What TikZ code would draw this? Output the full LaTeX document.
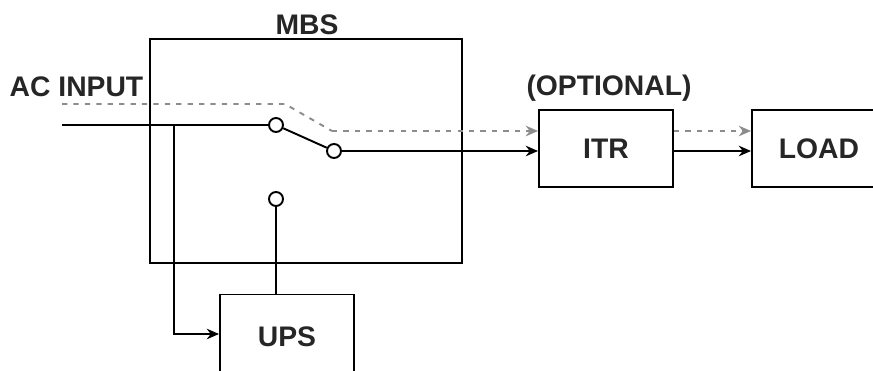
\documentclass[tikz,border=0pt]{standalone}
\usepackage{fontspec}
\usetikzlibrary{arrows.meta}
\setmainfont{Liberation Sans}
\tikzset{
    blockbox/.style={draw, line width=1.1pt, fill=none, minimum width=2.68cm, minimum height=1.54cm, font=\fontsize{16.1}{18}\selectfont\bfseries, text=black!85},
    swnode/.style={circle, draw, line width=1.1pt, fill=white, inner sep=0pt, minimum size=0.28cm},
    lab/.style={font=\fontsize{16.1}{18}\selectfont\bfseries, text=black!85, inner sep=0pt},
    wire/.style={line width=1.1pt},
    bypass/.style={line width=1.1pt, black!45, dash pattern=on 3pt off 3.5pt},
    tip/.style={-{Stealth[length=7pt,width=6pt]}}
}
\begin{document}
\begin{tikzpicture}[x=0.02cm, y=-0.02cm]
            \clip (0,0) rectangle (873,371);

            % Blocks
            \node[blockbox, minimum width=6.24cm, minimum height=4.48cm] (MBS) at (306,151) {};
            \node[blockbox] (ITR) at (606,148.5) {ITR};
            \node[blockbox] (LOAD) at (819,148.5) {LOAD};
            \node[blockbox, minimum height=1.7cm] (UPS) at (287,337) {UPS};

            % Labels
            \node[lab] (mbsLabel) at (307,25) {MBS};
            \node[lab] (acLabel) at (76.5,87) {AC INPUT};
            \node[lab] (optLabel) at (609,88) {(OPTIONAL)};

            % Free ends and bends
            \coordinate (inMain) at (62,125);
            \coordinate (tap) at (174,125);
            \coordinate (inBypass) at (62,104);
            \coordinate (bendA) at (285,104);
            \coordinate (bendB) at (332,131);

            % Bypass path (dashed)
            \draw[bypass] (inBypass) -- (bendA) -- (bendB);
            \draw[bypass, tip] (bendB) -- (bendB -| ITR.west);
            \draw[bypass, tip] (ITR.east |- bendB) -- (LOAD.west |- bendB);

            % Switch contacts
            \node[swnode] (swA) at (276,125) {};
            \node[swnode] (swB) at (334,151) {};
            \node[swnode] (swC) at (276,199) {};

            % Main path
            \draw[wire] (inMain) -- (swA);
            \draw[wire] (swA) -- (swB);
            \draw[wire, tip] (swB) -- (swB -| ITR.west);
            \draw[wire, tip] (ITR.east |- swB) -- (LOAD.west |- swB);

            % UPS branch
            \draw[wire, tip] (tap) |- (UPS.west |- 0,334);
            \draw[wire] (UPS.north -| swC) -- (swC);
        \end{tikzpicture}
\end{document}
